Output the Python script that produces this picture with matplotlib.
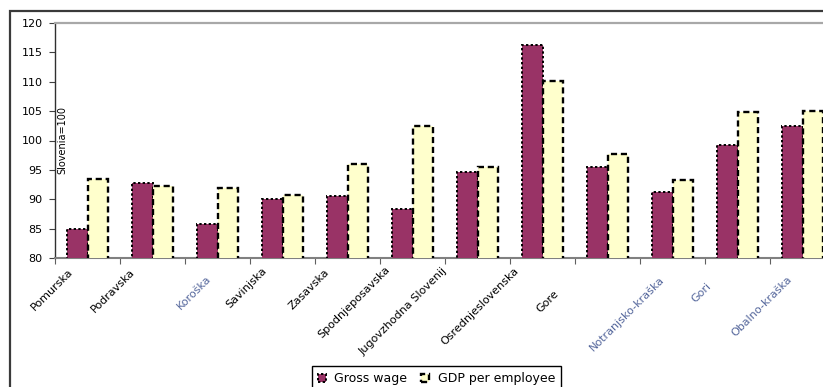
import matplotlib
matplotlib.use('Agg')
import matplotlib.pyplot as plt
import matplotlib.patches as mpatches
from matplotlib.transforms import ScaledTranslation, blended_transform_factory
import numpy as np

# Regije (tako kot so izpisane pod osjo) in indeksi, Slovenija = 100
REGIONS = ['Pomurska', 'Podravska', 'Koroška', 'Savinjska', 'Zasavska', 'Spodnjeposavska',
           'Jugovzhodna Slovenij', 'Osrednjeslovenska', 'Gore', 'Notranjsko-kraška', 'Gori',
           'Obalno-kraška']
GROSS_WAGE = [84.9, 92.8, 85.8, 90.0, 90.5, 88.4, 94.7, 116.3, 95.5, 91.2, 99.3, 102.4]
GDP_PER_EMPLOYEE = [93.5, 92.2, 91.9, 90.8, 96.0, 102.4, 95.5, 110.2, 97.7, 93.3, 104.9, 105.1]
Y_TICKS = [80, 85, 90, 95, 100, 105, 110, 115, 120]
SERIES_NAMES = ['Gross wage', 'GDP per employee']

WAGE_COLOR = '#993366'
GDP_COLOR = '#FFFFCC'
BLUE_LABEL = '#55679c'
BLUE_REGIONS = ['Koroška', 'Notranjsko-kraška', 'Gori', 'Obalno-kraška']
# zamik konca napisa od sredine kategorije (v pikslih: desno, navzdol)
LABEL_SHIFT = [(-20, 9), (-23, 9), (-12, 16), (-21, 8), (-23, 9), (-28, 6), (-36, 8),
               (-29, 8), (-54, 31), (-14, 16), (-31, 23), (-16, 16)]

W, H = 823, 387
fig = plt.figure(figsize=(W / 100, H / 100), dpi=100)
fig.patch.set_facecolor('white')

# okvir celotnega grafikona (desni in spodnji rob sta izven slike)
fig.add_artist(mpatches.Rectangle((10 / W, -0.5), 2, 1 - 11 / H + 0.5, transform=fig.transFigure,
                                  fill=False, edgecolor='#3a3a3a', lw=1.6, zorder=0))

ax = fig.add_axes([55 / W, (H - 258) / H, 780 / W, 235 / H])
x = np.arange(len(REGIONS))
bw = 0.308

ax.bar(x - bw, GROSS_WAGE, width=bw, align='edge', color=WAGE_COLOR, edgecolor='black',
       linewidth=1.4, linestyle=(0, (1.2, 1.2)), label=SERIES_NAMES[0], zorder=3)
ax.bar(x, GDP_PER_EMPLOYEE, width=bw, align='edge', color=GDP_COLOR, edgecolor='black',
       linewidth=1.7, linestyle=(0, (2.6, 1.6)), label=SERIES_NAMES[1], zorder=3)

ax.set_xlim(-0.5, len(REGIONS) - 0.5)
ax.set_ylim(80, 120)
ax.set_yticks(Y_TICKS)
ax.set_yticklabels([str(v) for v in Y_TICKS], fontsize=8)
ax.tick_params(axis='y', direction='out', length=4, width=0.8, color='#404040', pad=5)

# kljukice na x osi so na mejah med kategorijami
ax.set_xticks(np.arange(len(REGIONS) + 1) - 0.5)
ax.set_xticklabels([])
ax.tick_params(axis='x', direction='out', length=4, width=0.8, color='#606060')

ax.spines['left'].set_color('#303030')
ax.spines['left'].set_linewidth(1.0)
ax.spines['bottom'].set_color('#808080')
ax.spines['bottom'].set_linewidth(1.5)
ax.spines['top'].set_color('#a8a8a8')
ax.spines['top'].set_linewidth(1.6)
ax.spines['right'].set_color('#a8a8a8')

# napisi regij pod kotom 45 stopinj
xtrans = ax.get_xaxis_transform()
for i, name in enumerate(REGIONS):
    dx, dy = LABEL_SHIFT[i]
    tr = xtrans + ScaledTranslation(dx / 100, -dy / 100, fig.dpi_scale_trans)
    col = BLUE_LABEL if name in BLUE_REGIONS else 'black'
    ax.text(i, 0, name, transform=tr, rotation=45, rotation_mode='anchor',
            ha='right', va='top', fontsize=8, color=col, clip_on=False)

ax.text(0.009, 100, 'Slovenia=100', rotation=90, fontsize=7, ha='center', va='center',
        transform=blended_transform_factory(ax.transAxes, ax.transData))

fig.legend(loc='upper left', bbox_to_anchor=(312 / W, 1 - 366 / H), ncol=2, fontsize=9,
           frameon=True, fancybox=False, edgecolor='black', framealpha=1, borderaxespad=0,
           handlelength=0.6, handleheight=0.6, handletextpad=0.7, columnspacing=1.1,
           borderpad=0.5)

fig.savefig('out.png', dpi=100)
